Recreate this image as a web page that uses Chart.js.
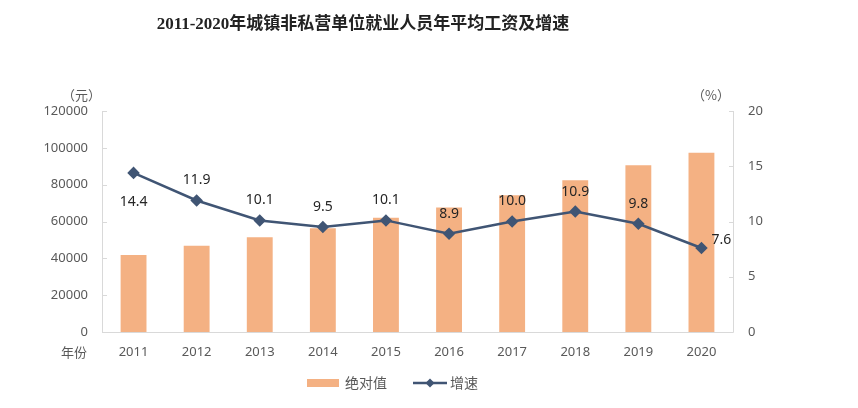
<!DOCTYPE html>
<html><head><meta charset="utf-8">
<script src="https://cdn.jsdelivr.net/npm/chart.js@4"></script>
<style>html,body{margin:0;padding:0;background:#fff;}canvas{display:block;}</style>
</head><body>
<canvas id="c" width="858" height="408"></canvas>
<script>
const years = ['2011','2012','2013','2014','2015','2016','2017','2018','2019','2020'];
const wages = [41799,46769,51483,56360,62029,67569,74318,82413,90501,97379];
const growth = [14.4,11.9,10.1,9.5,10.1,8.9,10.0,10.9,9.8,7.6];
const growthLabels = ['14.4','11.9','10.1','9.5','10.1','8.9','10.0','10.9','9.8','7.6'];
const titleText = '2011-2020年城镇非私营单位就业人员年平均工资及增速';

const BAR = '#f4b183', LINE = '#405574', GRAY = '#595959', AXIS = '#d9d9d9';
const tickFont = {family:'"Noto Sans","Noto Sans CJK SC"', size:13};

const deco = {
  id:'deco',
  afterDraw(chart){
    const ctx = chart.ctx, a = chart.chartArea;
    const y = chart.scales.y, y1 = chart.scales.y1;
    ctx.save();
    ctx.strokeStyle = AXIS; ctx.lineWidth = 1;
    ctx.beginPath();
    ctx.moveTo(a.left+0.5, a.top); ctx.lineTo(a.left+0.5, a.bottom+0.5);
    ctx.lineTo(a.right+0.5, a.bottom+0.5); ctx.lineTo(a.right+0.5, a.top);
    y.ticks.forEach(t=>{const p=Math.round(y.getPixelForValue(t.value))+0.5; ctx.moveTo(a.left,p); ctx.lineTo(a.left+5,p);});
    y1.ticks.forEach(t=>{const p=Math.round(y1.getPixelForValue(t.value))+0.5; ctx.moveTo(a.right-4,p); ctx.lineTo(a.right,p);});
    ctx.stroke();
    ctx.fillStyle = '#222';
    ctx.font = 'bold 17px "Liberation Serif","Noto Sans CJK SC"';
    ctx.textAlign = 'center'; ctx.textBaseline = 'middle';
    ctx.fillText(titleText, 363, 25);
    ctx.fillStyle = GRAY;
    ctx.font = '13px "Noto Sans CJK SC"';
    ctx.textAlign = 'right';
    ctx.fillText('（元）', 101, 95);
    ctx.fillText('年份', 87, 352);
    ctx.textAlign = 'left';
    ctx.fillText('（%）', 692, 95);
    const meta = chart.getDatasetMeta(0);
    ctx.fillStyle = '#262626';
    ctx.font = '14px "Noto Sans"';
    meta.data.forEach((pt,i)=>{
      const lbl = growthLabels[i];
      if(i===0){ctx.textAlign='center'; ctx.fillText(lbl, pt.x, pt.y+29);}
      else if(i===years.length-1){ctx.textAlign='left'; ctx.fillText(lbl, pt.x+10, pt.y-8);}
      else {ctx.textAlign='center'; ctx.fillText(lbl, pt.x, pt.y-20);}
    });
    ctx.fillStyle = BAR; ctx.fillRect(307, 379, 32, 8);
    ctx.fillStyle = GRAY; ctx.font = '14px "Noto Sans CJK SC"';
    ctx.textAlign='left'; ctx.fillText('绝对值', 345, 383);
    ctx.strokeStyle = LINE; ctx.lineWidth = 2.5;
    ctx.beginPath(); ctx.moveTo(413,383); ctx.lineTo(447,383); ctx.stroke();
    ctx.fillStyle = LINE;
    ctx.beginPath(); ctx.moveTo(430,378.5); ctx.lineTo(434.5,383); ctx.lineTo(430,387.5); ctx.lineTo(425.5,383); ctx.closePath(); ctx.fill();
    ctx.fillStyle = GRAY; ctx.fillText('增速', 450, 383);
    ctx.restore();
  }
};

new Chart(document.getElementById('c'), {
  data:{
    labels: years,
    datasets:[
      {type:'line', label:'增速', data:growth, yAxisID:'y1', borderColor:LINE, backgroundColor:LINE,
       borderWidth:2.5, pointStyle:'rectRot', pointRadius:4.5, pointHoverRadius:4.5, tension:0, order:0},
      {type:'bar', label:'绝对值', data:wages, yAxisID:'y', backgroundColor:BAR,
       barPercentage:0.41, categoryPercentage:1.0, order:1}
    ]
  },
  options:{
    responsive:false, animation:false,
    layout:{padding:{top:111, left:0, right:0, bottom:0}},
    plugins:{legend:{display:false}, title:{display:false}, tooltip:{enabled:false}},
    scales:{
      x:{grid:{display:false, drawTicks:false}, border:{display:false},
         ticks:{color:GRAY, font:tickFont, padding:12, maxRotation:0},
         afterFit(s){s.height = 76;}},
      y:{position:'left', min:0, max:120000, grid:{display:false, drawTicks:false}, border:{display:false},
         ticks:{stepSize:20000, color:GRAY, font:tickFont, padding:14, callback:v=>String(v)},
         afterFit(s){s.width = 102;}},
      y1:{position:'right', min:0, max:20, grid:{display:false, drawTicks:false}, border:{display:false},
         ticks:{stepSize:5, color:GRAY, font:tickFont, padding:15, callback:v=>String(v)},
         afterFit(s){s.width = 125;}}
    }
  },
  plugins:[deco]
});
</script>
</body></html>
